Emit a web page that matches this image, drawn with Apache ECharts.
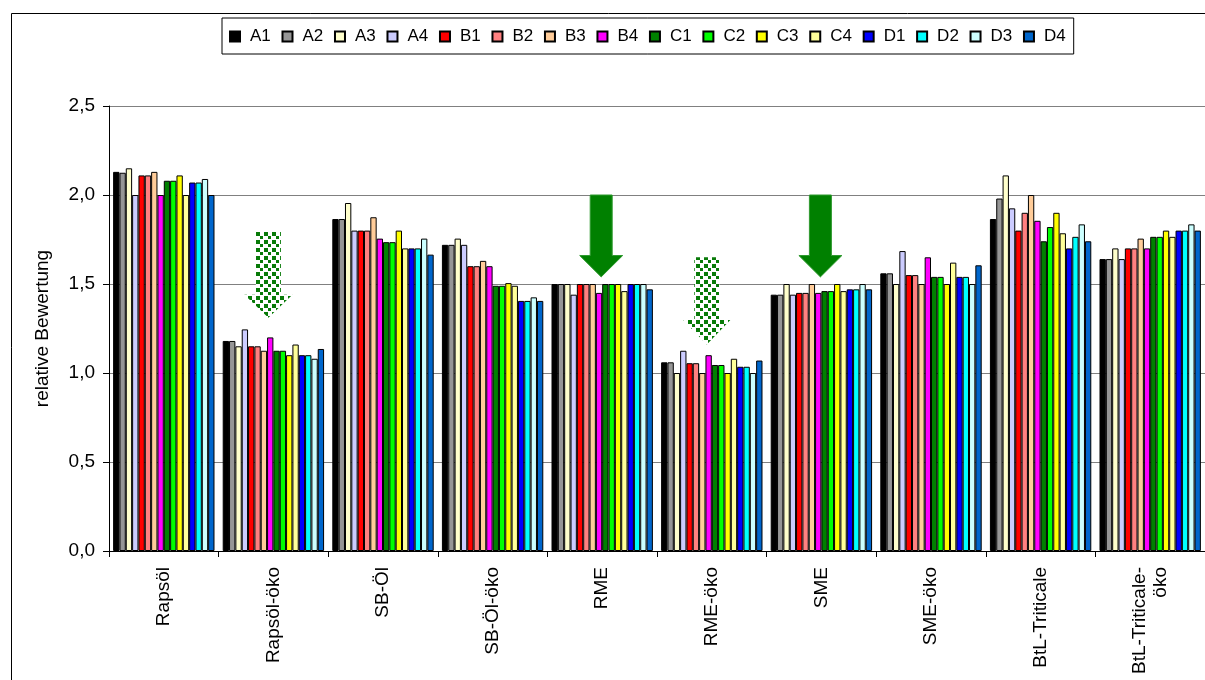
<!DOCTYPE html>
<html>
<head>
<meta charset="utf-8">
<script src="https://cdn.jsdelivr.net/npm/echarts@6/dist/echarts.min.js"></script>
<style>
html,body{margin:0;padding:0;background:#fff;}
#chart{width:1205px;height:680px;}
</style>
</head>
<body>
<div id="chart"></div>
<script>
const categories = ['Rapsöl','Rapsöl-öko','SB-Öl','SB-Öl-öko','RME','RME-öko','SME','SME-öko','BtL-Triticale','BtL-Triticale-\nöko'];
const seriesNames = ['A1','A2','A3','A4','B1','B2','B3','B4','C1','C2','C3','C4','D1','D2','D3','D4'];
const seriesColors = ['#000000','#969696','#FFFFCC','#CCCCFF','#FF0000','#FF8080','#FFCC99','#FF00FF','#008000','#00FF00','#FFFF00','#FFFF99','#0000FF','#00FFFF','#CCFFFF','#0066CC'];
const yTicks = [0, 0.5, 1.0, 1.5, 2.0, 2.5];

const A1 = [2.13, 1.18, 1.865, 1.72, 1.50, 1.06, 1.44, 1.56, 1.865, 1.64];
const A2 = [2.125, 1.18, 1.865, 1.72, 1.50, 1.06, 1.44, 1.56, 1.98, 1.64];
const A3 = [2.15, 1.15, 1.955, 1.755, 1.50, 1.00, 1.50, 1.50, 2.11, 1.70];
const A4 = [2.00, 1.245, 1.80, 1.72, 1.44, 1.125, 1.44, 1.685, 1.925, 1.64];
const B1 = [2.11, 1.15, 1.80, 1.60, 1.50, 1.055, 1.45, 1.55, 1.80, 1.70];
const B2 = [2.11, 1.15, 1.80, 1.60, 1.50, 1.055, 1.45, 1.55, 1.90, 1.70];
const B3 = [2.13, 1.125, 1.875, 1.63, 1.50, 1.00, 1.50, 1.50, 2.00, 1.755];
const B4 = [2.00, 1.20, 1.755, 1.60, 1.45, 1.10, 1.45, 1.65, 1.855, 1.70];
const C1 = [2.08, 1.125, 1.735, 1.49, 1.50, 1.045, 1.46, 1.54, 1.74, 1.765];
const C2 = [2.08, 1.125, 1.735, 1.49, 1.50, 1.045, 1.46, 1.54, 1.82, 1.765];
const C3 = [2.11, 1.10, 1.80, 1.505, 1.50, 1.00, 1.50, 1.50, 1.90, 1.80];
const C4 = [2.00, 1.16, 1.70, 1.49, 1.46, 1.08, 1.46, 1.62, 1.785, 1.765];
const D1 = [2.07, 1.10, 1.70, 1.405, 1.50, 1.035, 1.47, 1.54, 1.70, 1.80];
const D2 = [2.07, 1.10, 1.70, 1.405, 1.50, 1.035, 1.47, 1.54, 1.765, 1.80];
const D3 = [2.09, 1.08, 1.755, 1.425, 1.50, 1.00, 1.50, 1.50, 1.835, 1.835];
const D4 = [2.00, 1.135, 1.665, 1.405, 1.47, 1.07, 1.47, 1.605, 1.74, 1.80];
const seriesValues = [A1,A2,A3,A4,B1,B2,B3,B4,C1,C2,C3,C4,D1,D2,D3,D4];

// annotation arrows: category index, top value, head-start value, tip value, style
const arrowCats   = [1, 4, 5, 6];
const arrowTop    = [1.795, 2.0, 1.65, 2.0];
const arrowHead   = [1.44, 1.66, 1.30, 1.66];
const arrowTip    = [1.31, 1.54, 1.16, 1.54];
const arrowDotted = [true, false, true, false];

const FONT = '"Liberation Sans", Arial, sans-serif';

const chart = echarts.init(document.getElementById('chart'), null, {renderer: 'canvas'});

const series = seriesNames.map((n, i) => ({
  name: n,
  type: 'bar',
  data: seriesValues[i],
  barGap: '0%',
  barCategoryGap: '7.5%',
  itemStyle: {color: seriesColors[i], borderColor: '#000', borderWidth: 1},
  emphasis: {disabled: true},
  animation: false
}));

chart.setOption({
  animation: false,
  textStyle: {fontFamily: FONT},
  legend: {
    data: seriesNames,
    left: 222, top: 18,
    padding: [10, 8, 9, 7],
    itemWidth: 10, itemHeight: 10,
    itemGap: 10.7,
    icon: 'rect',
    borderColor: '#000', borderWidth: 1,
    backgroundColor: '#fff',
    textStyle: {fontFamily: FONT, fontSize: 17, color: '#000', padding: [0, 0, 0, 5]}
  },
  grid: {left: 109, top: 106, width: 1099, height: 445, containLabel: false},
  xAxis: {
    type: 'category',
    data: categories,
    axisLine: {lineStyle: {color: '#000', width: 1}},
    axisTick: {show: true, length: 6, inside: false, lineStyle: {color: '#000'}},
    axisLabel: {rotate: 90, margin: 16, fontSize: 19, color: '#000', fontFamily: FONT, lineHeight: 21}
  },
  yAxis: {
    type: 'value',
    min: yTicks[0], max: yTicks[yTicks.length - 1], interval: 0.5,
    name: 'relative Bewertung',
    nameLocation: 'middle',
    nameGap: 57,
    nameTextStyle: {fontSize: 19, color: '#000', fontFamily: FONT},
    axisLine: {show: true, lineStyle: {color: '#000', width: 1}},
    axisTick: {show: true, length: 6, lineStyle: {color: '#000'}},
    splitLine: {show: true, lineStyle: {color: '#808080', width: 1}},
    axisLabel: {
      margin: 14, fontSize: 19, color: '#000', fontFamily: FONT,
      formatter: v => v.toFixed(1).replace('.', ',')
    }
  },
  series: series
});

// dotted pattern
const pc = document.createElement('canvas');
pc.width = 8; pc.height = 8;
const pctx = pc.getContext('2d');
pctx.fillStyle = '#ffffff';
pctx.fillRect(0, 0, 8, 8);
pctx.fillStyle = '#087a08';
pctx.fillRect(0, 0, 4, 4);
pctx.fillRect(4, 4, 3, 3);

function arrowGraphic(i) {
  const c = arrowCats[i];
  const pTop = chart.convertToPixel({gridIndex: 0}, [c, arrowTop[i]]);
  const pHead = chart.convertToPixel({gridIndex: 0}, [c, arrowHead[i]]);
  const pTip = chart.convertToPixel({gridIndex: 0}, [c, arrowTip[i]]);
  const dotted = arrowDotted[i];
  const cx = pTop[0] + (dotted ? -5 : -1);
  const sw = dotted ? 12.5 : 11;
  const hw = dotted ? 24 : 21.5;
  const pts = [
    [cx - sw, pTop[1]], [cx + sw, pTop[1]], [cx + sw, pHead[1]], [cx + hw, pHead[1]],
    [cx, pTip[1]], [cx - hw, pHead[1]], [cx - sw, pHead[1]]
  ];
  return {
    type: 'polygon',
    shape: {points: pts},
    style: dotted ? {fill: {image: pc, repeat: 'repeat'}, stroke: null}
                  : {fill: '#008000', stroke: '#2f9a2f', lineWidth: 1},
    z: 100
  };
}

const graphics = [{
  type: 'rect',
  shape: {x: 11.5, y: 13.5, width: 1400, height: 900},
  style: {fill: null, stroke: '#000', lineWidth: 1},
  silent: true, z: -10
}];
for (let i = 0; i < arrowCats.length; i++) graphics.push(arrowGraphic(i));
chart.setOption({graphic: graphics});
</script>
</body>
</html>
